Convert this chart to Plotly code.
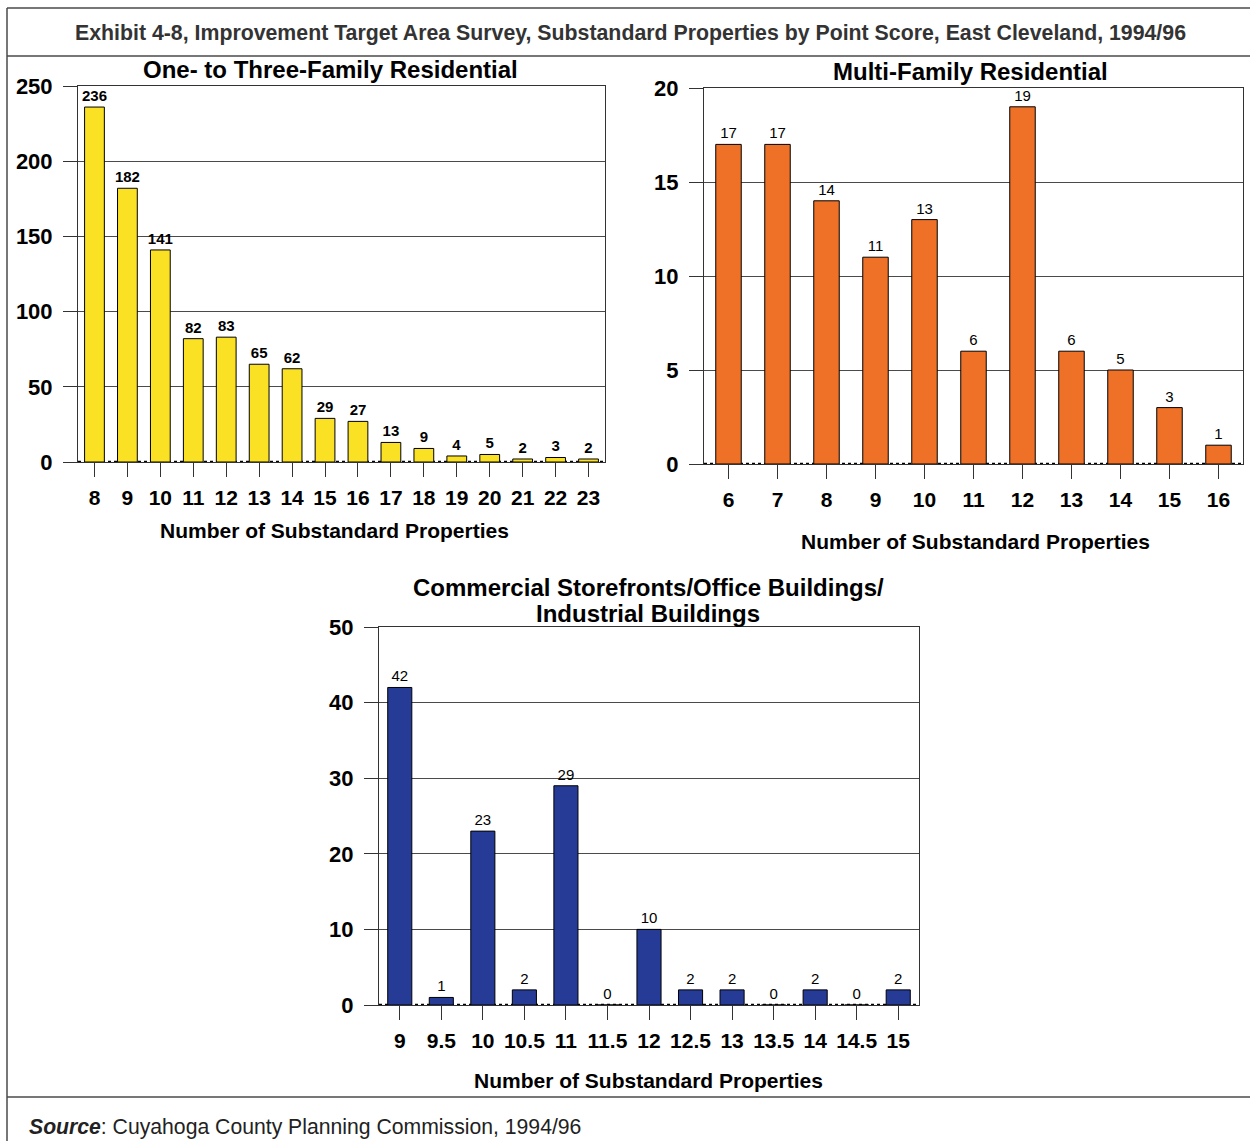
import plotly.graph_objects as go

W, H = 1250, 1141

# Data: number of substandard properties by point score
one_three_scores = ["8", "9", "10", "11", "12", "13", "14", "15", "16", "17", "18", "19", "20", "21", "22", "23"]
one_three_counts = [236, 182, 141, 82, 83, 65, 62, 29, 27, 13, 9, 4, 5, 2, 3, 2]

multi_scores = ["6", "7", "8", "9", "10", "11", "12", "13", "14", "15", "16"]
multi_counts = [17, 17, 14, 11, 13, 6, 19, 6, 5, 3, 1]

commercial_scores = ["9", "9.5", "10", "10.5", "11", "11.5", "12", "12.5", "13", "13.5", "14", "14.5", "15"]
commercial_counts = [42, 1, 23, 2, 29, 0, 10, 2, 2, 0, 2, 0, 2]

one_three_ticks = [0, 50, 100, 150, 200, 250]
multi_ticks = [0, 5, 10, 15, 20]
commercial_ticks = [0, 10, 20, 30, 40, 50]

FONT = "Arial, Liberation Sans, sans-serif"
YELLOW = "#FBE123"
ORANGE = "#EE7127"
BLUE = "#263B96"
GRID = "#4a4a4a"
FRAME = "#333333"


def px(x):
    return x / W


def py(y):
    return 1 - y / H


fig = go.Figure()

panels = [
    # (x-data, y-data, colour, bar width, label font, x px range, y px range, y max, ticks)
    (one_three_scores, one_three_counts, YELLOW, 0.6,
     dict(family=FONT, size=15, color="black", weight="bold"),
     (78, 605), (86, 462), 250, one_three_ticks),
    (multi_scores, multi_counts, ORANGE, 0.52,
     dict(family=FONT, size=15, color="black"),
     (704, 1243), (88, 464), 20, multi_ticks),
    (commercial_scores, commercial_counts, BLUE, 0.58,
     dict(family=FONT, size=15, color="black"),
     (379, 919), (627, 1005), 50, commercial_ticks),
]

layout_axes = {}
shapes = []
for i, (cats, vals, color, bw, tfont, (x0, x1), (y0, y1), ymax, ticks) in enumerate(panels, start=1):
    suffix = "" if i == 1 else str(i)
    fig.add_trace(go.Bar(
        x=cats, y=vals,
        xaxis="x" + suffix, yaxis="y" + suffix,
        marker=dict(color=color, line=dict(color="black", width=1)),
        width=bw,
        text=[str(v) for v in vals],
        textposition="outside",
        textfont=tfont,
        constraintext="none",
        cliponaxis=False,
        showlegend=False,
        hoverinfo="x+y",
    ))
    layout_axes["xaxis" + suffix] = dict(
        domain=[px(x0), px(x1)],
        anchor="y" + suffix,
        type="category",
        range=[-0.5, len(cats) - 0.5],
        showline=True, linecolor=FRAME, linewidth=1, mirror=True,
        ticks="outside", ticklen=14, tickcolor=FRAME, tickwidth=1,
        tickfont=dict(family=FONT, size=21, color="black", weight="bold"),
        ticklabelstandoff=3,
        showgrid=False, zeroline=False, fixedrange=True, automargin=False,
    )
    layout_axes["yaxis" + suffix] = dict(
        domain=[py(y1), py(y0)],
        anchor="x" + suffix,
        range=[0, ymax],
        tickvals=ticks,
        showline=True, linecolor=FRAME, linewidth=1, mirror=True,
        ticks="outside", ticklen=14, tickcolor=FRAME, tickwidth=1,
        tickfont=dict(family=FONT, size=22, color="black", weight="bold"),
        ticklabelstandoff=6,
        showgrid=True, gridcolor=GRID, gridwidth=1,
        zeroline=False, fixedrange=True, automargin=False,
    )
    # dotted baseline along the category axis
    shapes.append(dict(
        type="line", xref="x" + suffix, yref="y" + suffix,
        x0=-0.5, x1=len(cats) - 0.5, y0=0, y1=0,
        line=dict(color="black", width=2.5, dash="dot"), layer="below",
    ))

# outer exhibit frame
frame_col = "#4a4a4a"
shapes += [
    dict(type="line", xref="paper", yref="paper", x0=px(7), x1=px(7), y0=py(8), y1=py(1160),
         line=dict(color=frame_col, width=1.5)),
    dict(type="line", xref="paper", yref="paper", x0=px(7), x1=px(1260), y0=py(8), y1=py(8),
         line=dict(color=frame_col, width=1.5)),
    dict(type="line", xref="paper", yref="paper", x0=px(7), x1=px(1260), y0=py(56), y1=py(56),
         line=dict(color=frame_col, width=1.5)),
    dict(type="line", xref="paper", yref="paper", x0=px(7), x1=px(1260), y0=py(1097), y1=py(1097),
         line=dict(color=frame_col, width=1.5)),
]


def text_note(x, y, text, size, weight="bold", color="black", xanchor="center"):
    return dict(
        xref="paper", yref="paper", x=px(x), y=py(y), text=text,
        showarrow=False, xanchor=xanchor, yanchor="middle",
        font=dict(family=FONT, size=size, color=color, weight=weight),
    )


annotations = [
    text_note(630, 33, "Exhibit 4-8, Improvement Target Area Survey, Substandard Properties by Point Score, East Cleveland, 1994/96",
              21.3, color="#333333"),
    text_note(330, 70, "One- to Three-Family Residential", 24),
    text_note(970, 72, "Multi-Family Residential", 24),
    text_note(648, 587, "Commercial Storefronts/Office Buildings/", 24),
    text_note(648, 613, "Industrial Buildings", 24),
    text_note(334, 530, "Number of Substandard Properties", 21),
    text_note(975, 541, "Number of Substandard Properties", 21),
    text_note(648, 1080, "Number of Substandard Properties", 21),
    text_note(27, 1127, "<b><i>Source</i></b>: Cuyahoga County Planning Commission, 1994/96", 21.2,
              weight="normal", color="#222222", xanchor="left"),
]

fig.update_layout(
    width=W, height=H,
    autosize=False,
    margin=dict(l=0, r=0, t=0, b=0, pad=0, autoexpand=False),
    paper_bgcolor="white", plot_bgcolor="white",
    bargap=0.4,
    shapes=shapes,
    annotations=annotations,
    **layout_axes,
)

fig.write_html("out.html", config={"responsive": False})
